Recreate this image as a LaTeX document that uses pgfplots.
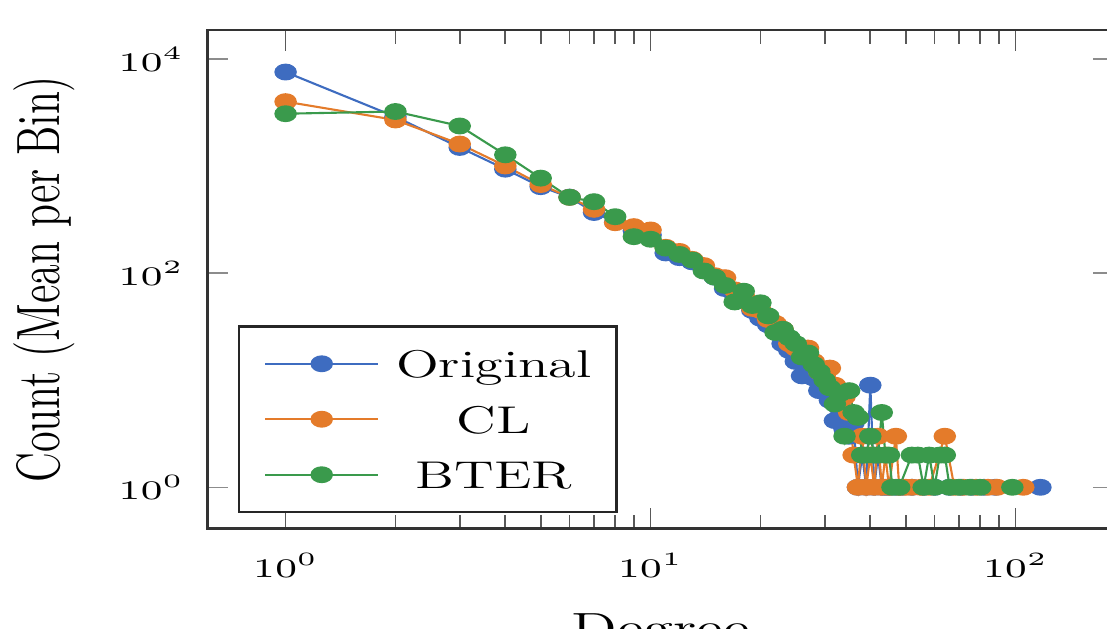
\documentclass[border=0pt]{standalone}
\usepackage{fix-cm}
\usepackage{fontspec}
\usepackage{pgfplots}
\pgfplotsset{compat=1.18}
\definecolor{cblue}{RGB}{62,108,192}
\definecolor{corange}{RGB}{228,123,42}
\definecolor{cgreen}{RGB}{58,154,76}
\begin{document}
\begin{tikzpicture}
\useasboundingbox (-2.075cm,-1.005cm) rectangle (8.995cm,5.285cm);
\begin{axis}[
  at={(0,0)}, anchor=south west,
  scale only axis, width=9.065cm, height=4.985cm,
  xmode=log, ymode=log,
  xmin=0.611, xmax=186.1, ymin=0.412, ymax=18780,
  xtick={1,10,100}, ytick={1,100,10000},
  yminorticks=false,
  major tick length=0.21cm, minor tick length=0.14cm,
  axis line style={line width=0.7pt, black!80},
  xtick style={line width=0.5pt, black!65},
  ytick style={line width=0.45pt, black!45},
  xticklabel style={font=\fontsize{7.65}{9}\selectfont, yshift=-0.125cm, xscale=1.45},
  yticklabel style={font=\fontsize{7.65}{9}\selectfont, xshift=-0.055cm, xscale=1.45},
  xlabel={Degree}, ylabel={Count (Mean per Bin)},
  every axis x label/.style={at={(axis description cs:0.5,-0.2277)}, anchor=base, font=\fontsize{12}{14}\selectfont, xscale=1.45},
  every axis y label/.style={at={(axis description cs:-0.18,0.5)}, xscale=1.45, rotate=90, anchor=center, font=\fontsize{12}{14}\selectfont},
  legend style={at={(0.0336,0.031)}, anchor=south west, draw=black!85, line width=0.7pt,
     font=\fontsize{11}{13}\selectfont, inner xsep=0.25cm, inner ysep=0.16cm,
     row sep=0.133cm, column sep=0.17cm,
     nodes={inner sep=0pt, text height=10pt, text depth=2pt, xscale=1.45}},
  legend cell align=center,
  legend image code/.code={\draw[mark repeat=2,mark phase=2,#1] plot coordinates {(0cm,0cm) (0.565cm,0cm) (1.13cm,0cm)};},
  every axis plot/.append style={line width=0.6pt, mark=*, mark size=2.1pt, mark options={xscale=1.38}},
]
\addplot[cblue] table {
x y
1 7600
2 2900
3 1500
4 940
5 645
6 515
7 370
8 300
9 250
10 228
11 155
12 140
13 128
14 108
15 92
16 72
17 64
18 56
19 45
20 38
21 33
22 30
23 22
24 19
25 15
26 11
27 13
28 10.5
29 8
30 9
31 6.5
32 4.2
33 5.5
34 3.5
35 3
36 4
37 1
38 2
39 1
40 9
41 1
42 2
43 1
44 1
45 1
47 1
49 1
52 1
56 1
60 1
66 1
71 1
76 1
82 1
88 1
117 1
};
\addlegendentry{Original}
\addplot[corange] table {
x y
1 4020
2 2710
3 1615
4 1007
5 675
6 513
7 396
8 297
9 273
10 254
11 175
12 160
13 135
14 118
15 95
16 91
17 70
18 62
19 47
20 45
21 37
22 34
23 30
24 22
25 20
26 17
27 20
28 15
29 12
30 11
31 13
32 9
33 8
34 7
35 5
36 2
37 1
38 3
39 1
40 2
41 1
42 3
43 1
44 2
45 1
47 3
48 1
50 1
52 1
55 1
58 1
64 3
68 1
72 1
78 1
84 1
89 1
105 1
};
\addlegendentry{CL}
\addplot[cgreen] table {
x y
1 3100
2 3250
3 2380
4 1280
5 775
6 513
7 467
8 338
9 220
10 208
11 172
12 150
13 133
14 105
15 92
16 77
17 54
18 68
19 50
20 53
21 40
22 28
23 30
24 25
25 22
26 16.5
27 18
28 14
29 12
30 10
31 8.5
32 6
33 7.5
34 3
35 8
36 5
37 4.5
38 2
39 2
40 3
41 2
42 2
43 5
44 2
45 2
46 1
48 1
52 2
54 2
56 1
58 2
60 1
62 2
64 2
66 1
70 1
75 1
80 1
98 1
};
\addlegendentry{BTER}
\end{axis}
\end{tikzpicture}
\end{document}
